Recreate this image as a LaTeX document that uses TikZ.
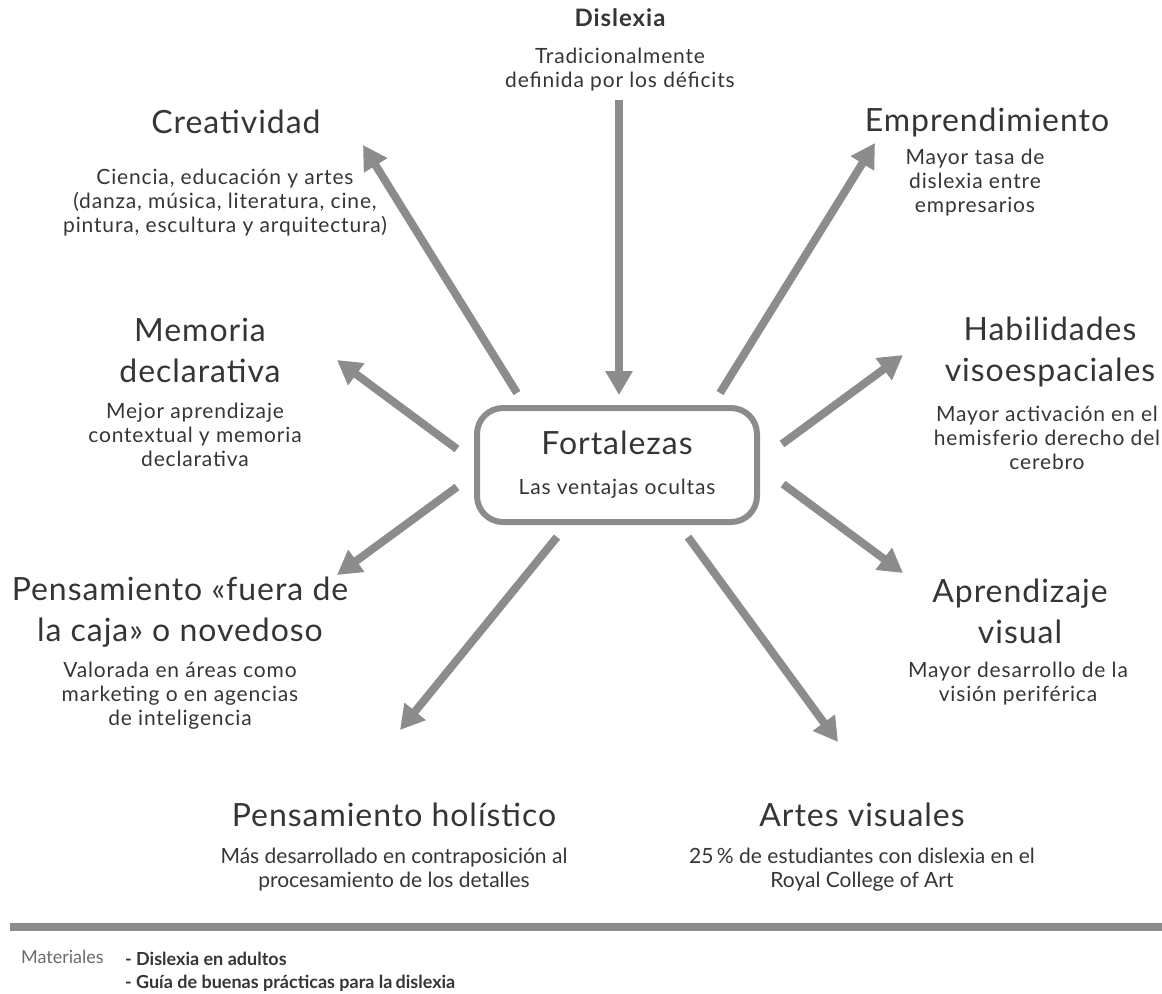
\documentclass[tikz,border=0pt]{standalone}
\usepackage{fontspec}
\setmainfont{Lato}
\newfontfamily\titlefont[LetterSpace=3]{Lato}
\newfontfamily\descfont[LetterSpace=4]{Lato}
\usetikzlibrary{arrows.meta}

\definecolor{linegray}{HTML}{8C8C8C}
\definecolor{textgray}{HTML}{353535}
\definecolor{notegray}{HTML}{6A6A6A}

\begin{document}
\begin{tikzpicture}[x=0.5pt, y=-0.5pt,
  title/.style={text=textgray, align=center, font=\titlefont\fontsize{16}{20.5}\selectfont},
  desc/.style={text=textgray, align=center, font=\descfont\fontsize{10.5}{12}\selectfont},
  tight/.style={text=textgray, align=center, font=\fontsize{10.5}{12}\selectfont},
  spoke/.style={draw=linegray, line width=4pt, -{Triangle[length=12pt,width=13pt]}}]

\useasboundingbox (0,0) rectangle (1162,993);

\node[draw=linegray, line width=3pt, rounded corners=13pt, minimum width=140pt, minimum height=57pt,
  align=center, text=textgray] (fort) at (617,465)
  {\titlefont\fontsize{16}{20}\selectfont Fortalezas\\[8pt]\descfont\fontsize{10.5}{12}\selectfont Las ventajas ocultas};

\node[text=textgray, font=\descfont\bfseries\fontsize{12}{14}\selectfont] (dis) at (620,18) {Dislexia};
\node[desc] (dis-txt) at (620,70) {Tradicionalmente\\definida por los déficits};

\node[title] (crea) at (236,122) {Creatividad};
\node[desc] (crea-txt) at (225,203) {Ciencia, educación y artes\\(danza, música, literatura, cine,\\pintura, escultura y arquitectura)};

\node[title] (empr) at (987,122) {Emprendimiento};
\node[desc] (empr-txt) at (975,183) {Mayor tasa de\\dislexia entre\\empresarios};

\node[title] (memo) at (200,350) {Memoria\\declarativa};
\node[desc] (memo-txt) at (195,435) {Mejor aprendizaje\\contextual y memoria\\declarativa};

\node[title] (habi) at (1050,352) {Habilidades\\visoespaciales};
\node[desc] (habi-txt) at (1047,438) {Mayor activación en el\\hemisferio derecho del\\cerebro};

\node[title] (fuera) at (180,612) {Pensamiento «fuera de\\la caja» o novedoso};
\node[desc] (fuera-txt) at (180,696) {Valorada en áreas como\\marketing o en agencias\\de inteligencia};

\node[title] (apre) at (1020,611) {Aprendizaje\\visual};
\node[desc] (apre-txt) at (1018,684) {Mayor desarrollo de la\\visión periférica};

\node[title] (holi) at (394,815) {Pensamiento holístico};
\node[tight] (holi-txt) at (394,870) {Más desarrollado en contraposición al\\procesamiento de los detalles};

\node[title] (artes) at (862,815) {Artes visuales};
\node[tight] (artes-txt) at (862,870) {25\,\% de estudiantes con dislexia en el\\Royal College of Art};

\coordinate (dis-a) at (619,100);   \coordinate (dis-b) at (619,395);
\coordinate (crea-a) at (517,393);  \coordinate (crea-b) at (363,145);
\coordinate (empr-a) at (720,393);  \coordinate (empr-b) at (875,143);
\coordinate (memo-a) at (457,449);  \coordinate (memo-b) at (337,360);
\coordinate (habi-a) at (782,444);  \coordinate (habi-b) at (903,355);
\coordinate (fuera-a) at (457,487); \coordinate (fuera-b) at (337,575);
\coordinate (apre-a) at (783,484);  \coordinate (apre-b) at (903,573);
\coordinate (holi-a) at (557,537);  \coordinate (holi-b) at (400,730);
\coordinate (artes-a) at (688,537); \coordinate (artes-b) at (838,742);

\draw[spoke] (dis-a) -- (dis-b);
\draw[spoke] (crea-a) -- (crea-b);
\draw[spoke] (empr-a) -- (empr-b);
\draw[spoke] (memo-a) -- (memo-b);
\draw[spoke] (habi-a) -- (habi-b);
\draw[spoke] (fuera-a) -- (fuera-b);
\draw[spoke] (apre-a) -- (apre-b);
\draw[spoke] (holi-a) -- (holi-b);
\draw[spoke] (artes-a) -- (artes-b);

\draw[linegray, line width=4pt] (10,927) -- (1162,927);

\node[anchor=west, text=notegray, font=\fontsize{9}{11}\selectfont] (mat) at (14,957) {Materiales};
\node[anchor=north west, text=textgray, align=left, font=\bfseries\fontsize{9}{11.5}\selectfont] (mat-list) at (118,945)
  {- Dislexia en adultos\\- Guía de buenas prácticas para la\,dislexia};

\end{tikzpicture}
\end{document}
